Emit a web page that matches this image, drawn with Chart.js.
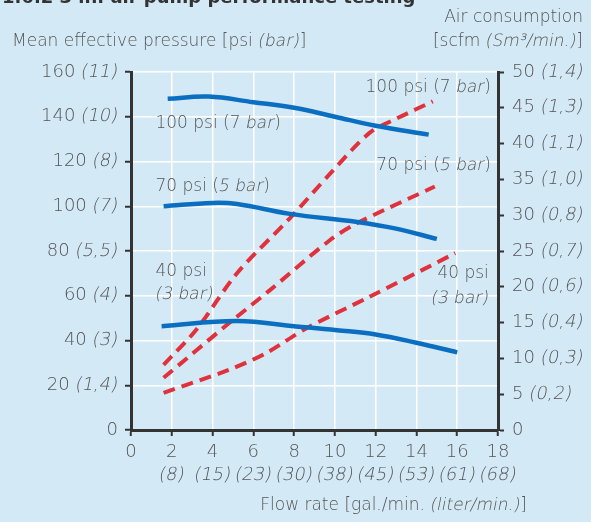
<!DOCTYPE html>
<html>
<head>
<meta charset="utf-8">
<script src="https://cdn.jsdelivr.net/npm/chart.js@4.4.1/dist/chart.umd.min.js"></script>
<style>
  body { margin: 0; background: #d4e9f6; }
  #wrap { width: 591px; height: 522px; }
</style>
</head>
<body>
<div id="wrap"><canvas id="pumpChart" width="591" height="522"></canvas></div>
<script>
// axis ticks
const flowTicks = [0, 2, 4, 6, 8, 10, 12, 14, 16, 18];
const literTicks = ["", "8", "15", "23", "30", "38", "45", "53", "61", "68"];
const psiTicks = [0, 20, 40, 60, 80, 100, 120, 140, 160];
const barTicks = ["", "1,4", "3", "4", "5,5", "7", "8", "10", "11"];
const scfmTicks = [0, 5, 10, 15, 20, 25, 30, 35, 40, 45, 50];
const sm3Ticks = ["", "0,2", "0,3", "0,4", "0,6", "0,7", "0,8", "1,0", "1,1", "1,3", "1,4"];

// mean effective pressure (psi), left axis
const flow100P = [1.8, 3.8, 6, 8, 10, 12, 14.6];
const pressure100 = [148, 149, 146.5, 144, 140, 136, 132];
const flow70P = [1.6, 4, 5.2, 7.8, 11.1, 13, 15];
const pressure70 = [100, 101.5, 101, 96.6, 93, 90, 85.4];
const flow40P = [1.5, 5.2, 8.1, 10.1, 12, 14, 16];
const pressure40 = [46.4, 48.7, 46.3, 44.6, 42.7, 39, 34.7];

// air consumption (scfm), right axis
const flow100A = [1.6, 3.2, 5.2, 7.8, 9.8, 11.7, 13.1, 14.8];
const air100 = [9.1, 14, 21.9, 29.6, 35.9, 41.5, 43.6, 45.9];
const flow70A = [1.6, 4.8, 6.8, 9.75, 11.1, 14.9];
const air70 = [7.3, 14.9, 19.5, 26.5, 28.9, 34];
const flow40A = [1.6, 4.8, 6.6, 8.6, 11.7, 15.9];
const air40 = [5.2, 8.4, 10.7, 14.2, 18.6, 24.7];

const BLUE = "#0a6fc0";
const RED = "#e0323c";
const TXT = "#555555";
const FONT = "'DejaVu Sans', sans-serif";

function pts(xs, ys) {
    return xs.map((x, i) => ({ x: x, y: ys[i] }));
}

function pressureLine(xs, ys) {
    return { data: pts(xs, ys), yAxisID: "y", borderColor: BLUE, borderWidth: 4.5,
             tension: 0.4, pointRadius: 0, fill: false };
}

function airLine(xs, ys) {
    return { data: pts(xs, ys), yAxisID: "y1", borderColor: RED, borderWidth: 4,
             borderDash: [12, 7], tension: 0.3, pointRadius: 0, fill: false };
}

// draws text made of [text, italic] pieces; italic is a slanted light face
function rich(ctx, parts, x, y, align, size) {
    size = size || 17;
    ctx.font = "200 " + size + "px " + FONT;
    let total = 0;
    parts.forEach(p => { total += ctx.measureText(p[0]).width; });
    let cx = align === "right" ? x - total : align === "center" ? x - total / 2 : x;
    ctx.textAlign = "left";
    ctx.textBaseline = "middle";
    ctx.fillStyle = TXT;
    parts.forEach(p => {
        if (p[1]) {
            ctx.save();
            ctx.translate(cx, y);
            ctx.transform(1, 0, -0.2, 1, 0, 0);
            ctx.fillText(p[0], 0, 0);
            ctx.restore();
        } else {
            ctx.fillText(p[0], cx, y);
        }
        cx += ctx.measureText(p[0]).width;
    });
}

function withUnit(main, sub) {
    return sub ? [[main + " ", false], ["(" + sub + ")", true]] : [[main, false]];
}

const textPlugin = {
    id: "texts",
    afterDraw(chart) {
        const ctx = chart.ctx;
        const sx = chart.scales.x, sy = chart.scales.y, sr = chart.scales.y1;
        ctx.save();

        // title, cut off by the top edge
        ctx.font = "bold 18px " + FONT;
        ctx.fillStyle = "#333";
        ctx.textBaseline = "alphabetic";
        ctx.fillText("1.6.2 3 in. air pump performance testing", 2, 3);

        rich(ctx, [["Mean effective pressure [psi ", false], ["(bar)", true], ["]", false]], 12, 42, "left");
        rich(ctx, [["Air consumption", false]], 583, 18, "right");
        rich(ctx, [["[scfm ", false], ["(Sm³/min.)", true], ["]", false]], 583, 42, "right");
        rich(ctx, [["Flow rate [gal./min. ", false], ["(liter/min.)", true], ["]", false]], 527, 506, "right");

        psiTicks.forEach((v, i) => {
            rich(ctx, withUnit(String(v), barTicks[i]), 118, sy.getPixelForValue(v), "right", 18);
        });
        scfmTicks.forEach((v, i) => {
            rich(ctx, withUnit(String(v), sm3Ticks[i]), 512, sr.getPixelForValue(v), "left", 18);
        });
        flowTicks.forEach((v, i) => {
            const px = sx.getPixelForValue(v);
            rich(ctx, [[String(v), false]], px, 452, "center", 18);
            if (literTicks[i]) rich(ctx, [["(" + literTicks[i] + ")", true]], px, 475, "center", 18);
        });

        // curve labels
        const L = (f, p) => [sx.getPixelForValue(f), sy.getPixelForValue(p)];
        let a;
        a = L(1.2, 137); rich(ctx, [["100 psi (7 ", false], ["bar", true], [")", false]], a[0], a[1], "left");
        a = L(17.65, 153); rich(ctx, [["100 psi (7 ", false], ["bar", true], [")", false]], a[0], a[1], "right");
        a = L(1.2, 109); rich(ctx, [["70 psi (", false], ["5 bar", true], [")", false]], a[0], a[1], "left");
        a = L(17.65, 118); rich(ctx, [["70 psi (", false], ["5 bar", true], [")", false]], a[0], a[1], "right");
        a = L(1.2, 70.6); rich(ctx, [["40 psi", false]], a[0], a[1], "left");
        a = L(1.2, 60.7); rich(ctx, [["(3 bar)", true]], a[0], a[1], "left");
        a = L(17.55, 69.7); rich(ctx, [["40 psi", false]], a[0], a[1], "right");
        a = L(17.55, 58.9); rich(ctx, [["(3 bar)", true]], a[0], a[1], "right");

        ctx.restore();
    }
};

new Chart(document.getElementById("pumpChart"), {
    type: "line",
    data: {
        datasets: [
            pressureLine(flow100P, pressure100),
            pressureLine(flow70P, pressure70),
            pressureLine(flow40P, pressure40),
            airLine(flow100A, air100),
            airLine(flow70A, air70),
            airLine(flow40A, air40)
        ]
    },
    options: {
        responsive: false,
        animation: false,
        layout: { padding: { top: 72, right: 0, left: 0, bottom: 0 } },
        plugins: { legend: { display: false }, tooltip: { enabled: false } },
        scales: {
            x: {
                type: "linear", min: 0, max: 18,
                afterFit(s) { s.height = 92; },
                ticks: { display: false, stepSize: 2 },
                grid: { color: "#ffffff", lineWidth: 1.5, tickColor: "#333", tickWidth: 2, tickLength: 6 },
                border: { color: "#333", width: 3 }
            },
            y: {
                position: "left", min: 0, max: 160,
                afterFit(s) { s.width = 131; },
                ticks: { display: false, stepSize: 20 },
                grid: { color: "#ffffff", lineWidth: 1.5, tickColor: "#333", tickWidth: 2, tickLength: 6 },
                border: { color: "#333", width: 3 }
            },
            y1: {
                position: "right", min: 0, max: 50,
                afterFit(s) { s.width = 93; },
                ticks: { display: false, stepSize: 5 },
                grid: { drawOnChartArea: false, tickColor: "#333", tickWidth: 2, tickLength: 6 },
                border: { color: "#333", width: 3 }
            }
        }
    },
    plugins: [textPlugin]
});
</script>
</body>
</html>
